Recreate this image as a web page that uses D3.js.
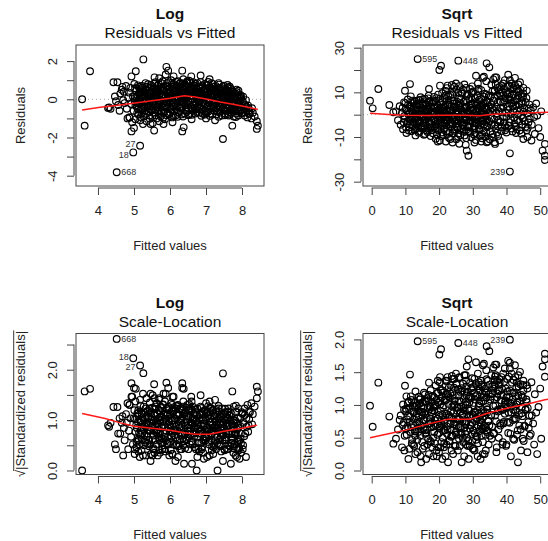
<!DOCTYPE html>
<html>
<head>
<meta charset="utf-8">
<script src="https://cdn.jsdelivr.net/npm/d3@7"></script>
<style>
  body { margin: 0; background: #fff; }
  svg { font-family: "Liberation Sans", Arial, sans-serif; display: block; }
</style>
</head>
<body>
<svg id="chart"></svg>
<script>
// ---- data ----
// observations as [fitted value, residual]; outer points first, then the dense core
const logObs = [
  [3.56,0.0],[3.63,-1.38],[3.78,1.47],[5.26,2.09],[5.05,1.47],[4.93,1.2],[4.43,0.89],[4.54,0.89],[4.31,-0.42],[4.6,-0.6],
  [4.93,-1.68],[7.47,-2.08],[7.73,-1.38],[8.41,-1.15],[8.44,-1.38],[8.41,-1.55],[8.19,-0.77],[8.08,-0.68],[8.17,-0.33],[6.34,1.5],
  [5.9,1.7],[5.95,1.5],[5.88,1.3],[5.57,1.15],[6.59,1.2],[6.85,1.25],[5.56,-1.64],[5.82,-1.3],[6.34,-1.68],[6.38,-1.47],
  [6.07,-1.2],[5.46,-1.3],[4.82,-1.0],[5.0,-1.5],[5.7,-1.15],[6.6,-1.05],[7.0,-1.0],[7.25,-1.1],[5.25,-1.3],[7.1,1.05],
  [5.7,1.1],[6.1,1.2],[7.35,0.85],[7.6,0.75],[7.9,0.45],
  [4.28,-0.45],[4.35,-0.5],[4.47,0.15],[4.5,-0.1],[4.56,-0.3],[4.62,0.3],[4.66,0.5],[4.68,0.65],[4.7,-0.05],[4.72,0.4],
  [4.74,-0.2],[4.78,0.7],[4.8,-0.5],[4.84,0.1],[4.87,-0.95],
  [4.86,0.35],[4.88,-0.95],[4.9,0.6],[4.92,-0.25],[4.95,-1.2],[4.97,0.15],[4.99,-0.6],[5.01,0.8],[5.02,-0.1],[5.04,-1.05],
  [5.06,0.45],[5.08,-0.4],[5.1,0.2],[5.12,-0.8],[5.13,0.65],[5.15,-0.15],[5.17,-1.1],[5.19,0.35],[5.2,-0.55],
  [5.22,0.7],[5.23,-0.3],[5.25,0.05],[5.27,-0.9],[5.28,0.45],[5.3,-0.6],[5.32,0.85],[5.33,-0.05],[5.35,-1.15],[5.37,0.3],
  [5.38,-0.45],[5.4,0.6],[5.42,-0.2],[5.43,-0.85],[5.45,0.15],[5.47,0.75],[5.48,-0.5],[5.5,0.4],[5.52,-1.25],[5.53,-0.1],
  [5.55,0.55],[5.57,-0.7],[5.58,0.2],[5.6,0.9],
  [5.61,-0.35],[5.63,-1.0],[5.64,0.5],[5.66,0.05],[5.68,-0.6],[5.69,0.8],[5.71,-0.2],[5.72,0.3],[5.74,-0.9],[5.76,0.65],
  [5.77,-0.4],[5.79,0.1],[5.8,0.95],[5.82,-0.7],[5.83,0.45],[5.85,-0.1],[5.86,-1.05],[5.88,0.7],[5.89,0.2],[5.91,-0.5],
  [5.92,0.85],[5.94,-0.25],[5.95,0.4],[5.97,-0.8],[5.98,0.05],[6.0,0.6],
  [6.01,-0.45],[6.03,1.0],[6.04,0.25],[6.06,-0.95],[6.07,0.55],[6.09,-0.15],[6.1,0.8],[6.12,-0.6],[6.13,0.35],[6.15,0.02],
  [6.16,-0.85],[6.18,0.7],[6.19,0.15],[6.21,-0.35],[6.22,0.95],[6.24,0.45],[6.25,-0.7],[6.27,0.2],[6.28,-0.1],[6.3,0.85],
  [6.31,-0.5],[6.33,0.6],[6.34,0.3],[6.36,-0.9],[6.37,1.05],[6.39,-0.01],[6.4,0.5],
  [6.42,-0.3],[6.43,0.75],[6.45,0.2],[6.46,-0.65],[6.48,0.95],[6.49,0.4],[6.51,-0.1],[6.52,0.65],[6.54,-0.8],[6.55,0.15],
  [6.57,0.85],[6.58,-0.4],[6.6,0.5],[6.61,0.01],[6.63,-0.6],[6.64,0.9],[6.66,0.3],[6.67,-0.25],[6.69,0.7],[6.7,-0.75],
  [6.72,0.1],[6.73,0.55],[6.75,-0.45],[6.76,0.85],[6.78,0.25],[6.79,-0.1],
  [6.81,0.6],[6.82,-0.7],[6.84,0.35],[6.85,0.9],[6.87,-0.3],[6.88,0.1],[6.9,0.7],[6.91,-0.55],[6.93,0.45],[6.94,-0.03],
  [6.96,0.8],[6.97,-0.8],[6.99,0.2],[7.0,0.55],[7.02,-0.4],[7.03,0.04],[7.05,0.75],[7.06,-0.65],[7.08,0.35],[7.09,-0.15],
  [7.11,0.6],[7.12,-0.75],[7.14,0.2],[7.15,0.85],[7.17,-0.35],[7.18,0.45],[7.2,-0.06],
  [7.21,0.65],[7.23,-0.6],[7.24,0.25],[7.26,-0.2],[7.27,0.7],[7.29,-0.8],[7.3,0.4],[7.32,0.0],[7.33,-0.45],[7.35,0.6],
  [7.36,0.15],[7.38,-0.7],[7.39,0.5],[7.41,-0.25],[7.42,0.3],[7.44,-0.85],[7.45,0.65],[7.47,-0.02],[7.48,-0.5],[7.5,0.4],
  [7.51,0.1],[7.53,-0.75],[7.54,0.55],[7.56,-0.3],[7.57,0.2],[7.59,-0.6],
  [7.6,0.45],[7.62,-0.1],[7.63,-0.85],[7.65,0.3],[7.66,-0.45],[7.68,0.55],[7.69,0.01],[7.71,-0.7],[7.72,0.2],[7.74,-0.3],
  [7.75,0.4],[7.77,-0.9],[7.78,-0.15],[7.8,0.15],[7.81,-0.55],[7.83,0.3],[7.84,-0.75],[7.86,-0.04],[7.87,0.1],[7.89,-0.4],
  [7.9,-0.85],[7.92,-0.2],[7.93,0.03],[7.95,-0.6],[7.97,-0.3],[7.99,-0.75],
  [8.02,-0.1],[8.04,-0.5],[8.07,-0.85],[8.09,-0.3],[8.12,-0.6],[8.15,-0.95],[8.18,-0.45],[8.22,-0.75],[8.26,-1.0],[8.3,-0.7],
  [8.35,-0.9],
  [5.31,0.2],[5.36,-0.25],[5.41,0.35],[5.46,-0.35],[5.51,0.05],[5.56,0.35],[5.62,0.15],[5.67,-0.3],[5.73,0.55],[5.78,-0.1],
  [5.84,0.25],[5.9,-0.35],[5.96,0.15],[6.02,0.35],[6.08,-0.3],[6.14,0.6],[6.2,-0.2],[6.26,0.4],[6.32,0.1],[6.38,0.7],
  [6.44,-0.45],[6.5,0.25],[6.56,0.45],[6.62,-0.15],[6.68,0.4],[6.74,0.0],[6.8,0.3],[6.86,-0.45],[6.92,0.2],[6.98,-0.25],
  [7.04,0.4],[7.1,-0.05],[7.16,0.3],[7.22,-0.4],[7.28,0.1],[7.34,0.35],[7.4,-0.4],[7.46,0.2],[7.52,-0.2],[7.58,0.1],
  [7.64,-0.3],[7.7,0.3],[7.76,-0.5],[7.82,0.05],
  [5.03,0.58],[5.07,0.12],[5.11,0.73],[5.14,0.31],[5.18,0.52],[5.21,0.09],[5.24,0.62],[5.29,0.27],[5.34,0.48],[5.39,0.79],
  [5.44,0.36],[5.49,0.63],[5.54,0.11],[5.59,0.44],[5.65,0.71],[5.7,0.24],[5.75,0.86],[5.81,0.53],[5.87,0.08],[5.93,0.67],
  [5.99,0.33],[6.05,0.78],[6.11,0.46],[6.17,0.92],[6.23,0.13],[6.29,0.58],[6.35,0.83],[6.41,0.28],[6.47,0.64],[6.53,0.97],
  [6.59,0.19],[6.65,0.56],[6.71,0.82],[6.77,0.38],[6.83,0.68],[6.89,0.12],[6.95,0.49],[7.01,0.74],[7.07,0.27],[7.13,0.53],
  [7.19,0.81],[7.25,0.44],[7.31,0.16],[7.37,0.58],[7.43,0.36],[7.49,0.71],[7.55,0.24],[7.61,0.62],[7.67,0.13],[7.73,0.47],
  [7.79,0.29],[7.85,0.51],[7.91,0.18],[7.97,0.07],[8.03,0.14],[8.11,-0.04],
  [5.16,0.04],[5.26,0.41],[5.36,0.66],[5.46,0.02],[5.56,0.83],[5.66,0.37],[5.76,0.17],[5.86,0.59],[5.96,0.89],[6.06,0.06],
  [6.16,0.42],[6.26,0.68],[6.36,0.23],[6.46,0.87],[6.56,0.34],[6.66,0.72],[6.76,0.04],[6.86,0.57],[6.96,0.26],[7.06,0.91],
  [7.16,0.09],[7.26,0.54],[7.36,0.77],[7.46,0.31],[7.56,0.49],[7.66,0.66],[7.76,0.07],[7.86,0.37],[7.96,0.22],
  [5.04,-0.33],[5.09,-0.71],[5.13,-0.22],[5.18,-0.93],[5.23,-0.47],[5.28,-0.14],[5.33,-0.76],[5.38,-0.36],[5.44,-1.02],[5.49,-0.58],
  [5.54,-0.27],[5.6,-0.84],[5.65,-0.43],[5.71,-0.09],[5.76,-0.63],[5.81,-0.96],[5.87,-0.31],[5.93,-0.72],[5.99,-0.18],[6.04,-0.54],
  [6.1,-0.88],[6.16,-0.24],[6.22,-0.66],[6.27,-0.41],[6.33,-0.79],[6.39,-0.19],[6.45,-0.57],[6.51,-0.83],[6.57,-0.28],[6.63,-0.49],
  [6.69,-0.12],[6.75,-0.69],[6.81,-0.38],[6.87,-0.86],[6.93,-0.22],[6.99,-0.61],[7.05,-0.33],[7.11,-0.52],[7.17,-0.79],[7.23,-0.14],
  [7.29,-0.46],[7.35,-0.92],[7.41,-0.63],[7.47,-0.27],[7.53,-0.84],[7.59,-0.42],[7.65,-0.67],[7.71,-0.17],[7.77,-0.56],[7.83,-0.93],
  [7.89,-0.62],[7.95,-0.44],[8.01,-0.71],[8.06,-0.26],[8.13,-0.42],[8.2,-0.58],[8.28,-0.47],
  [5.11,-0.52],[5.21,-0.73],[5.31,-0.43],[5.41,-0.64],[5.51,-0.87],[5.61,-0.54],[5.71,-0.77],[5.81,-0.22],[5.91,-0.83],[6.01,-0.69],
  [6.11,-0.37],[6.21,-0.92],[6.31,-0.27],[6.41,-0.74],[6.51,-0.46],[6.61,-0.81],[6.71,-0.53],[6.81,-0.17],[6.91,-0.76],[7.01,-0.72],
  [7.11,-0.87],[7.21,-0.33],[7.31,-0.64],[7.41,-0.13],[7.51,-0.58],[7.61,-0.77],[7.71,-0.48],[7.81,-0.32],[7.91,-0.09],
  [5.02,0.06],[5.12,-0.08],[5.22,0.21],[5.32,-0.17],[5.42,0.13],[5.52,-0.21],[5.62,0.32],[5.72,-0.07],[5.82,0.18],[5.92,-0.16],
  [6.02,0.09],[6.12,0.27],[6.22,-0.04],[6.32,0.43],[6.42,0.11],[6.52,0.33],[6.62,0.18],[6.72,0.41],[6.82,-0.08],[6.92,0.07],
  [7.02,0.24],[7.12,0.38],[7.22,-0.12],[7.32,0.26],[7.42,0.08],[7.52,-0.09],[7.62,0.14],[7.72,-0.24],[7.82,-0.28],[7.92,-0.11],
  [5.07,-0.18],[5.17,0.28],[5.27,-0.37],[5.37,0.16],[5.47,-0.06],[5.57,0.07],[5.67,0.48],[5.77,0.23],[5.87,-0.42],[5.97,0.52],
  [6.07,-0.06],[6.17,0.14],[6.27,0.83],[6.37,-0.14],[6.47,-0.22],[6.57,0.62],[6.67,-0.33],[6.77,0.51],[6.87,0.17],[6.97,0.36],
  [7.07,-0.18],[7.17,0.13],[7.27,0.38],[7.37,-0.21],[7.47,0.47],[7.57,0.34],[7.67,-0.57],[7.77,0.11],[7.87,-0.19],[7.97,0.16]
];
// labelled observations: [id, fitted, residual, label side]
const logIds = [["668",4.52,-3.82,"right"],["18",4.98,-2.78,"left"],["27",5.17,-2.43,"left"]];

const sqrtObs = [
  [-0.5,6.26],[0.29,2.85],[1.97,11.5],[5.23,4.33],[6.42,1.07],[9.88,10.7],[11.36,13.7],[17.0,11.5],[20.07,20.0],[20.57,21.9],
  [20.27,13],[34.1,23],[34.9,21.2],[30.95,17.45],[36.6,16.7],[40.5,17.9],[41.0,-17.3],[51.4,-13.1],[50.7,-16.1],[51.4,-18.4],
  [51.4,-20.3],[49.1,-0.4],[47.9,3.3],[48.4,-8.65],[47.4,-11.6],[45.0,-10.9],[36.6,-13.1],[34.1,-12.4],
  [7.2,1.5],[7.8,-2.5],[8.3,3.8],[8.6,-4.5],[9.0,0.8],[9.3,-6.5],[9.6,5.5],[9.8,-1.8],[10.1,2.6],[10.3,-8.2],
  [10.5,-3.9],[10.7,6.8],[10.9,0.2],[11.1,-5.6],[11.3,3.5],[11.5,-2.2],[11.6,8.2],[11.8,-7.4],[12.0,1.4],
  [12.2,-3.2],[12.4,5.1],[12.6,-0.9],[12.8,-6.8],[13.0,2.3],[13.2,-4.4],[13.4,6.3],[13.6,0.5],[13.8,-2.7],[14.0,4.2],
  [14.2,-7.5],[14.4,1.8],[14.6,-5.1],[14.8,3.0],[15.0,-1.2],[15.2,6.9],[15.4,-3.8],[15.6,0.9],[15.8,-8.6],[16.0,4.7],
  [16.2,-2.1],[16.4,2.5],[16.6,-5.9],[16.8,7.3],[17.0,-0.4],[17.2,3.6],[17.4,-4.0],[17.6,1.2],[17.8,-7.0],[18.0,5.4],
  [18.2,-1.6],[18.4,2.9],[18.6,-5.3],[18.8,6.2],[19.0,-3.0],[19.2,0.6],[19.4,-8.9],[19.6,4.0],[19.8,-0.8],[20.0,2.1],
  [12.3,1.0],[12.9,-1.8],[13.5,3.4],[14.1,-3.5],[14.7,0.1],[15.3,-5.8],[15.9,2.0],[16.5,-1.0],[17.1,5.6],[17.7,-2.8],
  [18.3,0.3],[18.9,-6.4],[19.5,1.9],[12.7,6.0],[13.9,-5.3],[15.1,4.5],[16.3,-7.1],[17.5,-6.0],[18.7,3.8],[19.9,-4.6],
  [14.5,7.8],[16.9,8.5],[18.5,8.0],[19.7,9.0],[13.0,-9.3],[15.5,-9.0],[17.5,-9.6],[19.0,-10.8],[20.2,-11.6],[19.6,-12.0],
  [20.3,-6.5],[20.5,5.3],[20.7,-1.2],[20.9,9.6],[21.1,-9.0],[21.3,2.4],[21.5,-3.8],[21.7,7.4],[21.9,0.3],[22.1,-7.4],
  [22.3,11.9],[22.5,-2.5],[22.7,4.6],[22.9,-10.3],[23.1,1.3],[23.3,8.8],[23.5,-5.2],[23.7,-0.6],[23.9,6.1],[24.1,-8.3],
  [24.3,3.2],[24.5,12.5],[24.7,-3.1],[24.9,0.9],[25.1,-11.0],[25.3,5.8],[25.5,-6.0],[25.7,9.8],[25.9,-1.5],[26.1,3.9],
  [26.3,-9.2],[26.5,7.0],[26.7,0.1],[26.9,-4.5],[27.1,11.2],[27.3,-7.6],[27.5,2.7],[27.7,-2.0],[27.9,6.4],[28.1,-10.5],
  [28.3,1.6],[28.5,9.2],[28.7,-5.6],[28.9,4.3],[29.1,-0.9],[29.3,-8.1],[29.5,7.8],[29.7,2.0],[29.9,-3.4],[30.1,10.4],
  [30.3,-6.8],[30.5,0.6],[30.7,5.0],[30.9,-11.3],[31.1,-1.8],[31.3,8.5],[31.5,3.0],[31.7,-4.8],[31.9,6.7],[32.1,-9.6],
  [32.3,0.2],[32.5,11.0],[32.7,-2.6],[32.9,4.1],[33.1,-7.2],[33.3,8.0],[33.5,-0.4],[33.7,-10.0],[33.9,2.8],[34.1,6.0],
  [34.3,-5.0],[34.5,-12.0],[34.7,1.0],[34.9,-3.0],
  [20.4,0.8],[21.0,-4.6],[21.6,3.5],[22.2,-1.0],[22.8,6.6],[23.4,-3.3],[24.0,1.8],[24.6,-6.5],[25.2,3.0],[25.8,-2.8],
  [26.4,5.2],[27.0,-1.6],[27.6,-5.4],[28.2,3.6],[28.8,0.2],[29.4,-3.0],[30.0,4.6],[30.6,-2.1],[31.2,1.7],[31.8,-6.2],
  [32.4,3.4],[33.0,-1.2],[33.6,5.1],[34.2,-2.4],[20.8,-8.0],[22.0,8.6],[23.2,-7.9],[24.4,10.2],[25.6,-9.8],[26.8,9.4],
  [28.0,-7.0],[29.2,11.5],[30.4,-9.0],[31.6,10.6],[32.8,-8.8],[34.0,9.0],
  [22.5,13.0],[23.8,13.3],[26.0,12.8],[28.0,12.0],[29.8,12.7],[31.5,14.0],[33.0,16.5],[33.3,17.0],[34.0,15.0],[27.5,13.5],
  [25.0,14.0],[28.2,-16.1],[28.7,-18.4],[27.9,-13.5],[26.0,-13.0],[24.0,-12.5],[30.5,-12.5],[32.5,-12.0],[22.0,-12.0],
  [35.2,-7.5],[35.4,4.5],[35.6,-1.5],[35.8,10.5],[36.0,-10.0],[36.2,2.0],[36.4,7.5],[36.6,-4.5],[36.8,13.5],[37.0,0.5],
  [37.2,-8.0],[37.4,5.5],[37.6,-2.5],[37.8,11.0],[38.0,-11.5],[38.2,3.0],[38.4,8.5],[38.6,-5.5],[38.8,1.0],[39.0,14.0],
  [39.2,-3.5],[39.4,6.5],[39.6,-7.0],[39.8,10.0],[40.0,-1.0],[40.2,12.5],[40.4,3.5],[40.6,-5.0],[40.8,8.0],[41.0,15.5],
  [41.2,-2.0],[41.4,5.0],[41.6,11.5],[41.8,-7.5],[42.0,1.5],[42.2,9.0],[42.4,-4.0],[42.6,13.0],[42.8,4.0],[43.0,-6.5],
  [43.2,7.0],[43.4,0.1],[43.6,10.5],[43.8,-3.0],[44.0,14.5],[44.2,2.5],[44.4,-8.5],[44.6,6.0],[44.8,-1.5],[45.0,9.5],
  [45.3,3.0],[45.6,-5.5],[45.9,7.5],[46.2,0.5],[46.5,-3.5],[46.8,4.5],
  [35.5,13.5],[36.1,15.8],[37.0,16.7],[37.3,12.0],[38.5,13.0],[39.5,15.5],[41.5,14.0],[42.5,16.5],[43.5,13.5],[45.0,12.0],
  [36.5,-12.3],[35.0,-11.0],[37.5,-9.5],[40.0,-8.0],[42.8,-8.2],[46.0,-7.0],[39.0,5.5],[41.0,9.5],[43.0,11.5],[44.5,8.0],
  [40.5,7.0],[42.0,5.5],[38.0,9.5],[36.5,11.0],
  [47.2,2.0],[47.5,-4.5],[48.2,-1.0],[49.5,-6.0],[50.0,-10.0],[50.3,1.5],[48.8,5.0],[46.2,-10.0],
  [9.2,3.1],[9.5,-3.4],[9.7,-0.6],[10.0,5.2],[10.2,-5.7],[10.4,1.9],[10.6,-2.9],[10.8,4.4],[11.0,-7.1],[11.2,0.7],
  [11.4,-4.3],[11.7,2.8],[11.9,-1.1],[12.1,6.3],[12.35,-5.1],[12.55,3.9],[12.75,-2.3],[12.95,0.4],[13.15,-6.2],[13.35,4.8],
  [13.55,-1.4],[13.75,2.2],[13.95,-8.1],[14.15,6.6],[14.35,-3.1],[14.55,0.3],[14.75,-6.1],[14.95,5.1],[15.15,-0.7],[15.35,2.6],
  [15.55,-4.9],[15.75,7.1],[15.95,-2.4],[16.15,0.2],[16.35,4.1],[16.55,-7.8],[16.75,1.5],[16.95,-3.3],[17.15,6.2],[17.35,-1.3],
  [17.55,3.3],[17.75,-5.1],[17.95,0.8],[18.15,-8.3],[18.35,5.9],[18.55,-2.2],[18.75,1.1],[18.95,-4.2],[19.15,7.4],[19.35,-0.3],
  [19.55,3.2],[19.75,-6.9],[19.95,0.5],
  [20.15,-2.7],[20.35,7.2],[20.55,-9.6],[20.75,3.1],[20.95,-0.2],[21.15,5.9],[21.35,-6.3],[21.55,1.1],[21.75,-2.4],[21.95,10.6],
  [22.15,-4.8],[22.35,2.0],[22.55,-8.7],[22.75,8.2],[22.95,-1.3],[23.15,4.4],[23.35,-10.9],[23.55,1.7],[23.75,-4.1],[23.95,9.1],
  [24.15,-0.4],[24.35,6.3],[24.55,-7.2],[24.75,3.5],[24.95,-2.2],[25.15,11.3],[25.35,-5.3],[25.55,0.6],[25.75,-8.4],[25.95,7.3],
  [26.15,-0.9],[26.35,2.9],[26.55,-6.1],[26.75,10.1],[26.95,-3.6],[27.15,1.2],[27.35,5.8],[27.55,-9.3],[27.75,3.4],[27.95,-1.0],
  [28.15,8.4],[28.35,-4.7],[28.55,0.9],[28.75,-7.7],[28.95,6.9],[29.15,-2.6],[29.35,3.1],[29.55,-10.1],[29.75,9.6],[29.95,-0.7],
  [30.15,2.4],[30.35,-5.1],[30.55,7.5],[30.75,-8.2],[30.95,1.4],[31.15,-3.9],[31.35,5.4],[31.55,-1.1],[31.75,11.6],[31.95,-6.7],
  [32.15,3.8],[32.35,-2.9],[32.55,7.1],[32.75,-10.6],[32.95,0.4],[33.15,4.9],[33.35,-4.4],[33.55,9.4],[33.75,-1.9],[33.95,-7.9],
  [34.15,2.2],[34.35,5.5],[34.55,-3.7],[34.75,8.6],
  [20.25,2.9],[20.65,-3.3],[21.05,1.6],[21.45,-0.8],[21.85,4.2],[22.25,-2.9],[22.65,0.1],[23.05,-4.2],[23.45,2.5],[23.85,-1.8],
  [24.25,4.9],[24.65,-0.9],[25.05,1.9],[25.45,-3.9],[25.85,4.0],[26.25,-1.9],[26.65,2.1],[27.05,-4.8],[27.45,0.3],[27.85,3.2],
  [28.25,-2.3],[28.65,1.3],[29.05,-5.3],[29.45,4.4],[29.85,-1.3],[30.25,0.7],[30.65,-3.6],[31.05,4.1],[31.45,-0.3],[31.85,2.3],
  [32.25,-4.5],[32.65,1.8],[33.05,-2.7],[33.45,3.0],[33.85,-0.6],[34.25,-5.6],[34.65,3.6],
  [35.1,1.8],[35.3,8.1],[35.5,-4.6],[35.7,2.9],[35.9,-8.8],[36.1,6.2],[36.3,-2.1],[36.5,10.6],[36.7,-6.3],[36.9,3.6],
  [37.1,-0.8],[37.3,8.8],[37.5,-5.2],[37.7,1.6],[37.9,12.4],[38.1,-3.3],[38.3,5.7],[38.5,-7.3],[38.7,9.9],[38.9,-1.2],
  [39.1,3.3],[39.3,11.7],[39.5,-4.8],[39.7,7.3],[39.9,0.9],[40.1,-5.9],[40.3,9.3],[40.5,2.1],[40.7,13.1],[40.9,-3.4],
  [41.1,6.8],[41.3,0.3],[41.5,-6.2],[41.7,8.9],[41.9,3.8],[42.1,12.2],[42.3,-1.4],[42.5,6.1],[42.7,-5.3],[42.9,10.2],
  [43.1,1.9],[43.3,-2.4],[43.5,8.4],[43.7,4.6],[43.9,-7.1],[44.1,11.1],[44.3,-0.6],[44.5,4.9],[44.7,-4.4],[44.9,7.9],
  [45.1,1.3],[45.4,-2.9],[45.7,5.6],[46.0,10.8],[46.3,-5.8],[46.6,2.7],[46.9,-1.8]
];
const sqrtIds = [["595",13.64,24.9,"right"],["448",25.7,24.2,"right"],["239",41.0,-25.5,"left"]];

// residual standard error of each fit
const logSigma = 0.56;
const sqrtSigma = 6.4;

// red smoothers, [fitted, value]
const logResidSmooth = [[3.56,-0.56],[4.06,-0.42],[4.5,-0.32],[4.98,-0.21],[5.5,-0.08],[6.0,0.05],[6.4,0.19],[6.7,0.12],[7.0,0.02],[7.4,-0.14],[7.75,-0.26],[8.1,-0.39],[8.44,-0.53]];
const sqrtResidSmooth = [[-0.5,0.6],[5,0.1],[10,-0.3],[16,-0.4],[22,-0.3],[28,-0.3],[32,-0.5],[36,0.2],[42,0.6],[48,0.9],[53,1.1]];
const logScaleSmooth = [[3.56,1.13],[4.2,1.03],[4.6,0.95],[5.0,0.88],[5.5,0.84],[6.0,0.80],[6.4,0.75],[6.7,0.72],[7.1,0.72],[7.5,0.78],[8.0,0.84],[8.42,0.9]];
const sqrtScaleSmooth = [[-0.5,0.5],[5,0.56],[10.4,0.62],[16,0.7],[22.7,0.78],[29.2,0.78],[34.1,0.87],[41,0.96],[46,1.01],[51.4,1.08],[53.5,1.1]];

// ticks and which of them carry a label
const logFittedTicks = [4,5,6,7,8];
const sqrtFittedTicks = [0,10,20,30,40,50];
const logResidTicks = [-4,-3,-2,-1,0,1,2],   logResidLabels = [-4,-2,0,2];
const sqrtResidTicks = [-30,-20,-10,0,10,20,30], sqrtResidLabels = [-30,-10,10,30];
const logScaleTicks = [0,0.5,1,1.5,2,2.5],  logScaleLabels = [0,1,2];
const sqrtScaleTicks = [0,0.5,1,1.5,2],     sqrtScaleLabels = [0,0.5,1,1.5,2];

// ---- drawing ----
const W = 548, H = 541;
const boxW = 188, boxH = 141;
const svg = d3.select("#chart").attr("width", W).attr("height", H);
svg.append("rect").attr("width", W).attr("height", H).attr("fill", "#fff");

const toScale = (r, s) => Math.sqrt(Math.abs(r) / s);   // sqrt(|standardized residual|)

// small vertical nudges (px) so the crowded id labels don't sit on each other
const nudgeResid = { "18": 2.5, "27": -2 };
const nudgeScale = { "18": -1.5, "27": 1.5 };

function drawPanel(o) {
  const g = svg.append("g");
  const x = d3.scaleLinear().domain(o.xDomain).range([o.left, o.left + boxW]);
  const y = d3.scaleLinear().domain(o.yDomain).range([o.top + boxH, o.top]);

  svg.append("clipPath").attr("id", "clip" + o.id)
    .append("rect").attr("x", o.left).attr("y", o.top).attr("width", boxW).attr("height", boxH);
  const plot = g.append("g").attr("clip-path", "url(#clip" + o.id + ")");

  if (o.zeroLine) {
    plot.append("line")
      .attr("x1", o.left).attr("x2", o.left + boxW)
      .attr("y1", y(0)).attr("y2", y(0))
      .attr("stroke", "#aaa").attr("stroke-dasharray", "1,3");
  }

  const pts = o.points.concat(o.ids.map(d => [d[1], d[2]]));
  plot.append("g").selectAll("circle")
    .data(pts)
    .join("circle")
    .attr("cx", d => x(d[0]))
    .attr("cy", d => y(d[1]))
    .attr("r", 3.35)
    .attr("fill", "none")
    .attr("stroke", "#000")
    .attr("stroke-width", 1.15);

  plot.append("path")
    .datum(o.smooth)
    .attr("d", d3.line().x(d => x(d[0])).y(d => y(d[1])))
    .attr("fill", "none")
    .attr("stroke", "#ff1a1a")
    .attr("stroke-width", 1.5);

  // point ids
  g.append("g").selectAll("text")
    .data(o.ids)
    .join("text")
    .attr("x", d => x(d[1]) + (d[3] === "right" ? 4.5 : -4.5))
    .attr("y", d => y(d[2]) + (o.nudge[d[0]] || 0))
    .attr("dy", "0.35em")
    .attr("text-anchor", d => d[3] === "right" ? "start" : "end")
    .attr("font-size", 9)
    .attr("fill", "#333")
    .text(d => d[0]);

  // box
  g.append("rect")
    .attr("x", o.left).attr("y", o.top).attr("width", boxW).attr("height", boxH)
    .attr("fill", "none").attr("stroke", "#444").attr("stroke-width", 1);

  // x axis
  const xa = g.append("g")
    .attr("transform", "translate(0," + (o.top + boxH + 2) + ")")
    .call(d3.axisBottom(x).tickValues(o.xTicks).tickSize(7).tickPadding(11).tickSizeOuter(0).tickFormat(d => String(d)));
  xa.select(".domain").remove();
  xa.append("line").attr("x1", x(o.xTicks[0])).attr("x2", x(o.xTicks[o.xTicks.length - 1]));
  xa.attr("font-family", null).attr("font-size", 13);
  xa.selectAll("line").attr("stroke", "#444");
  xa.selectAll("text").attr("fill", "#222");

  // y axis, labels parallel to the axis
  const hasLabel = d => o.yLabels.some(v => Math.abs(v - d) < 1e-9);
  const ya = g.append("g")
    .attr("transform", "translate(" + (o.left - 2) + ",0)")
    .call(d3.axisLeft(y).tickValues(o.yTicks).tickSize(7).tickSizeOuter(0)
      .tickFormat(d => hasLabel(d) ? o.yFormat(d) : ""));
  ya.select(".domain").remove();
  ya.append("line").attr("y1", y(o.yTicks[0])).attr("y2", y(o.yTicks[o.yTicks.length - 1]));
  ya.attr("font-family", null).attr("font-size", 13);
  ya.selectAll("line").attr("stroke", "#444");
  ya.selectAll(".tick text")
    .attr("transform", "rotate(-90)")
    .attr("x", 0).attr("y", -22).attr("dy", "0.35em")
    .attr("text-anchor", "middle")
    .attr("fill", "#222");

  // titles
  const cx = o.left + boxW / 2;
  g.append("text").attr("x", cx).attr("y", o.top - 26)
    .attr("text-anchor", "middle").attr("font-size", 15.5).attr("font-weight", "bold").attr("fill", "#111")
    .text(o.title);
  g.append("text").attr("x", cx).attr("y", o.top - 7)
    .attr("text-anchor", "middle").attr("font-size", 15.5).attr("fill", "#111")
    .text(o.subtitle);
  g.append("text").attr("x", cx).attr("y", o.top + boxH + 64)
    .attr("text-anchor", "middle").attr("font-size", 13).attr("fill", "#222")
    .text("Fitted values");

  const yt = g.append("g").attr("transform", "translate(" + (o.left - 56) + "," + (o.top + boxH / 2) + ") rotate(-90)");
  const ytext = yt.append("text").attr("x", 0).attr("y", 0).attr("dy", "0.35em")
    .attr("text-anchor", "middle").attr("font-size", 13).attr("fill", "#222")
    .text(o.yTitle);
  if (o.radical) {
    // overline of the square root sign
    const len = ytext.node().getComputedTextLength();
    const rad = ytext.node().getSubStringLength(0, 1);
    yt.append("line")
      .attr("x1", -len / 2 + rad * 0.85).attr("x2", len / 2 + 0.5)
      .attr("y1", -6.3).attr("y2", -6.3)
      .attr("stroke", "#222").attr("stroke-width", 0.9);
  }
}

const leftCol = 76, rightCol = 363, topRow = 45, bottomRow = 333.5;
const logX = [3.39, 8.61], sqrtX = [-2.58, 53.2];
const int = d => String(d);
const one = d => d.toFixed(1);

drawPanel({
  id: 1, left: leftCol, top: topRow, xDomain: logX, yDomain: [-4.54, 2.843],
  xTicks: logFittedTicks, yTicks: logResidTicks, yLabels: logResidLabels, yFormat: int,
  points: logObs, ids: logIds, nudge: nudgeResid, smooth: logResidSmooth, zeroLine: true,
  title: "Log", subtitle: "Residuals vs Fitted", yTitle: "Residuals"
});
drawPanel({
  id: 2, left: rightCol, top: topRow, xDomain: sqrtX, yDomain: [-31.94, 31.2],
  xTicks: sqrtFittedTicks, yTicks: sqrtResidTicks, yLabels: sqrtResidLabels, yFormat: int,
  points: sqrtObs, ids: sqrtIds, nudge: {}, smooth: sqrtResidSmooth, zeroLine: true,
  title: "Sqrt", subtitle: "Residuals vs Fitted", yTitle: "Residuals"
});
drawPanel({
  id: 3, left: leftCol, top: bottomRow, xDomain: logX, yDomain: [-0.08, 2.719],
  xTicks: logFittedTicks, yTicks: logScaleTicks, yLabels: logScaleLabels, yFormat: one,
  points: logObs.map(d => [d[0], toScale(d[1], logSigma)]),
  ids: logIds.map(d => [d[0], d[1], toScale(d[2], logSigma), d[3]]),
  nudge: nudgeScale, smooth: logScaleSmooth, zeroLine: false,
  title: "Log", subtitle: "Scale-Location", yTitle: "\u221A|Standardized residuals|", radical: true
});
drawPanel({
  id: 4, left: rightCol, top: bottomRow, xDomain: sqrtX, yDomain: [-0.061, 2.09],
  xTicks: sqrtFittedTicks, yTicks: sqrtScaleTicks, yLabels: sqrtScaleLabels, yFormat: one,
  points: sqrtObs.map(d => [d[0], toScale(d[1], sqrtSigma)]),
  ids: sqrtIds.map(d => [d[0], d[1], toScale(d[2], sqrtSigma), d[3]]),
  nudge: {}, smooth: sqrtScaleSmooth, zeroLine: false,
  title: "Sqrt", subtitle: "Scale-Location", yTitle: "\u221A|Standardized residuals|", radical: true
});
</script>
</body>
</html>
